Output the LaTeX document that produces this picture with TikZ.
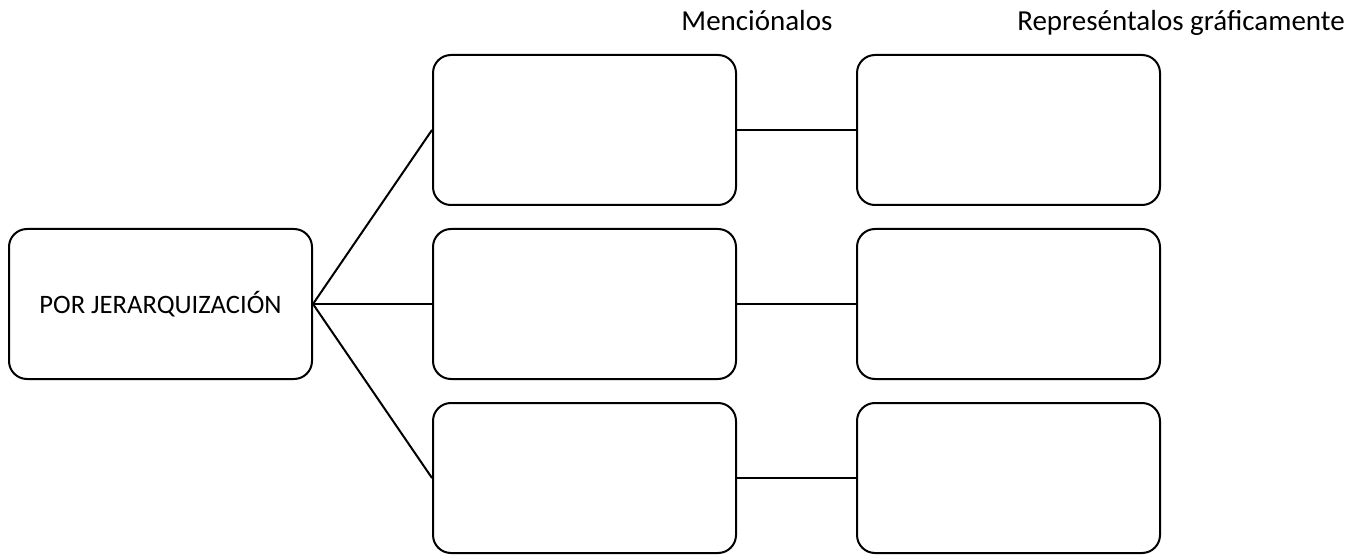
\documentclass[tikz,border=0pt]{standalone}
\usepackage{fontspec}
\setmainfont{Carlito}
\begin{document}
\begin{tikzpicture}[x=1pt,y=-1pt,
  box/.style={draw=black, line width=2pt, rounded corners=18pt, minimum width=303pt, minimum height=150pt, inner sep=0pt, anchor=north west},
  conn/.style={draw=black, line width=2pt},
  lbl/.style={font=\fontsize{29}{34}\selectfont, anchor=base, inner sep=0pt}]
\useasboundingbox (0,0) rectangle (1369,556);
\node[box, font=\fontsize{26.6}{32}\selectfont] (root) at (8,228) {POR JERARQUIZACIÓN};
\node[box] (m1) at (432,54) {};
\node[box] (m2) at (432,228) {};
\node[box] (m3) at (432,402) {};
\node[box] (r1) at (856,54) {};
\node[box] (r2) at (856,228) {};
\node[box] (r3) at (856,402) {};
\node[lbl] (t1) at (757,31) {Menciónalos};
\node[lbl] (t2) at (1181,31) {Represéntalos gráficamente};
\draw[conn] (root.east) -- (m1.west);
\draw[conn] (root.east) -- (m2.west);
\draw[conn] (root.east) -- (m3.west);
\draw[conn] (m1.east) -- (r1.west);
\draw[conn] (m2.east) -- (r2.west);
\draw[conn] (m3.east) -- (r3.west);
\end{tikzpicture}
\end{document}
